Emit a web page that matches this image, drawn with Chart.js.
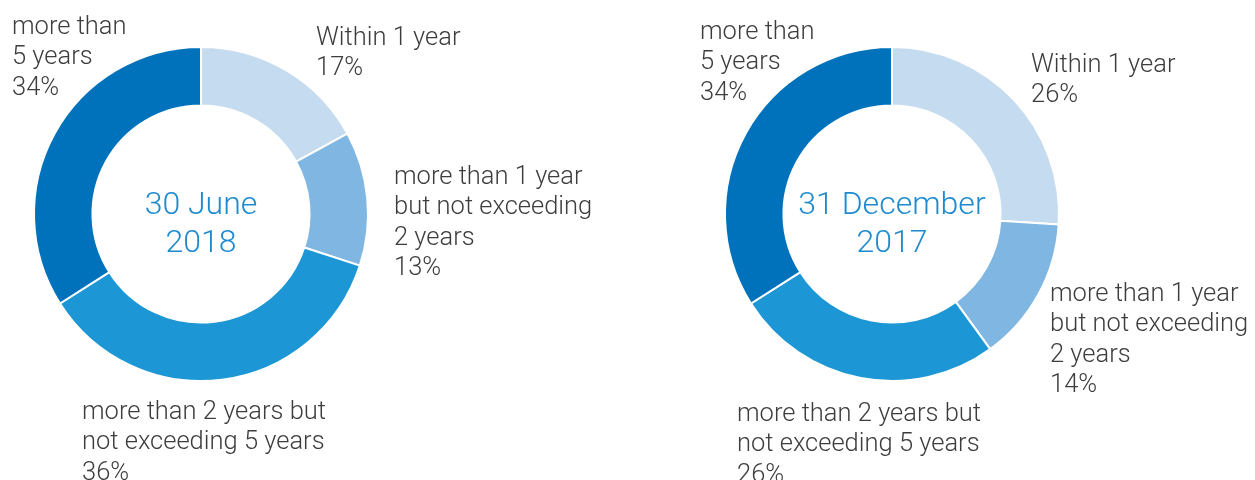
<!DOCTYPE html>
<html>
<head>
<meta charset="utf-8">
<script src="https://cdn.jsdelivr.net/npm/chart.js@4.4.1/dist/chart.umd.min.js"></script>
<style>
  html, body { margin: 0; padding: 0; background: #ffffff; }
  body { width: 1255px; height: 480px; position: relative; overflow: hidden; }
  .wrap { position: absolute; left: 0; top: 0; width: 1255px; height: 480px; }
</style>
</head>
<body>
<div class="wrap"><canvas id="c1"></canvas></div>
<div class="wrap"><canvas id="c2"></canvas></div>
<script>
// ---- data ----
const categories = [
  'Within 1 year',
  'more than 1 year but not exceeding 2 years',
  'more than 2 years but not exceeding 5 years',
  'more than 5 years'
];
const categoryLines = [
  ['Within 1 year'],
  ['more than 1 year', 'but not exceeding', '2 years'],
  ['more than 2 years but', 'not exceeding 5 years'],
  ['more than', '5 years']
];
const june2018 = [17, 13, 36, 34];
const dec2017 = [26, 14, 26, 34];
const titleJune = ['30 June', '2018'];
const titleDec = ['31 December', '2017'];

// ---- styles ----
const colors = ['#c4dbf0', '#80b7e2', '#1c96d4', '#0072bc'];
const labelFont = '300 25.5px Roboto';
const labelColor = '#3d3d3d';
const centerFont = '300 32px Roboto';
const centerColor = '#1e8bcf';
const lineH = 30.5;
const labelShift = 2.5;

const labelPlugin = {
  id: 'donutLabels',
  afterDraw(chart, args, opts) {
    const ctx = chart.ctx;
    const meta = chart.getDatasetMeta(0);
    const arc = meta.data[0];
    const values = chart.data.datasets[0].data;
    ctx.save();
    // center title
    ctx.font = centerFont;
    ctx.fillStyle = centerColor;
    ctx.textAlign = 'center';
    ctx.textBaseline = 'middle';
    opts.title.forEach((t, i) => {
      ctx.fillText(t, arc.x, arc.y + (i - (opts.title.length - 1) / 2) * 38 + opts.titleShift);
    });
    // segment labels
    ctx.font = labelFont;
    ctx.fillStyle = labelColor;
    ctx.textAlign = 'left';
    categoryLines.forEach((lines, i) => {
      const p = opts.positions[i];
      const all = lines.concat([values[i] + '%']);
      all.forEach((l, j) => ctx.fillText(l, p[0], p[1] + labelShift + j * lineH));
    });
    ctx.restore();
  }
};

function makeChart(id, values, title, padding, positions) {
  return new Chart(document.getElementById(id), {
    type: 'doughnut',
    data: {
      labels: categories,
      datasets: [{
        data: values,
        backgroundColor: colors,
        borderColor: '#ffffff',
        borderWidth: 2
      }]
    },
    options: {
      responsive: true,
      maintainAspectRatio: false,
      animation: false,
      events: [],
      cutout: '65%',
      layout: { padding: padding },
      plugins: {
        legend: { display: false },
        tooltip: { enabled: false },
        donutLabels: { title: title, positions: positions, titleShift: 11 }
      }
    },
    plugins: [labelPlugin]
  });
}

makeChart('c1', june2018, titleJune,
  { left: 33, right: 886, top: 46, bottom: 98 },
  [[316, 36], [394, 175], [82, 410], [12, 25]]);
makeChart('c2', dec2017, titleDec,
  { left: 724, right: 195, top: 46, bottom: 98 },
  [[1031, 63], [1050, 292], [737, 412], [700, 30]]);
</script>
</body>
</html>
